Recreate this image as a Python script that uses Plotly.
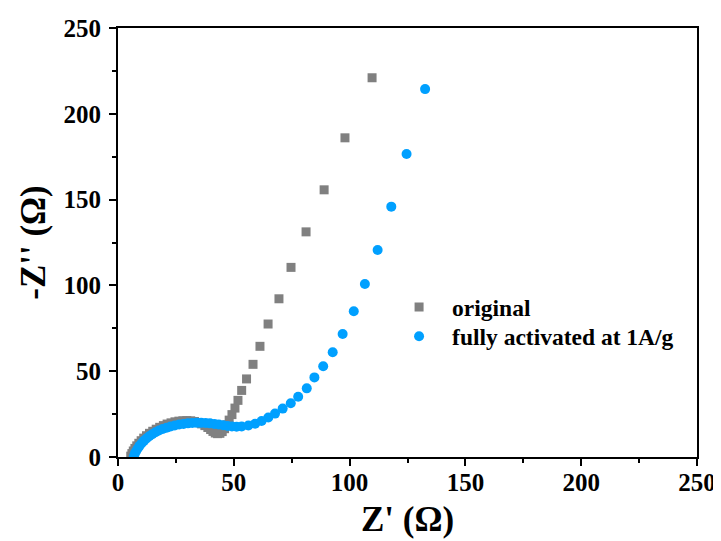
import plotly.graph_objects as go

# original (gray squares)
orig_x = [5.5, 6.0, 6.6, 7.3, 8.1, 9.0, 10.0, 11.1, 12.3, 13.6, 15.0, 16.5, 18.0, 19.6,
          21.2, 22.9, 24.6, 26.3, 28.0, 29.7, 31.4, 33.0, 34.6, 36.1, 37.5, 38.8, 40.0,
          41.0, 42.0, 43.0, 44.0, 45.0, 46.0, 47.0, 48.0, 49.2, 50.5, 51.8, 53.4, 55.5,
          58.3, 61.3, 64.8, 69.5, 74.7, 81.2, 89.0, 98.0, 109.7]
orig_y = [0.5, 2.0, 3.5, 5.0, 6.5, 8.0, 9.5, 11.0, 12.4, 13.8, 15.0, 16.2, 17.3, 18.3,
          19.2, 19.9, 20.5, 20.9, 21.1, 21.2, 21.1, 20.7, 20.1, 19.3, 18.3, 17.2, 16.0,
          14.9, 14.0, 13.6, 13.8, 14.8, 16.5, 18.8, 21.5, 24.7, 28.5, 33.0, 38.8, 45.5,
          54.0, 64.5, 77.5, 92.2, 110.5, 131.2, 155.7, 186.0, 221.0]

# fully activated at 1A/g (blue circles)
act_x = [6.8, 7.2, 7.8, 8.5, 9.3, 10.2, 11.2, 12.3, 13.5, 14.8, 16.2, 17.7, 19.3, 21.0,
         22.7, 24.5, 26.4, 28.3, 30.2, 32.1, 34.0, 35.9, 37.8, 39.7, 41.6, 43.5, 45.4,
         47.3, 49.2, 51.2, 53.4, 56.3, 59.2, 62.0, 64.9, 67.8, 71.1, 74.6, 77.8, 81.5,
         84.8, 88.6, 92.7, 97.0, 101.8, 106.6, 112.1, 118.0, 124.6, 132.6]
act_y = [0.3, 1.8, 3.4, 5.0, 6.5, 8.0, 9.4, 10.8, 12.1, 13.3, 14.4, 15.4, 16.3, 17.1,
         17.8, 18.4, 18.9, 19.3, 19.6, 19.8, 19.9, 19.9, 19.8, 19.6, 19.3, 18.9, 18.5,
         18.1, 17.8, 17.7, 17.8, 18.4, 19.4, 21.0, 23.0, 25.3, 28.2, 31.3, 35.1, 40.0,
         46.4, 52.9, 61.0, 71.7, 84.9, 100.8, 120.6, 145.9, 176.6, 214.4]

x_ticks = [0, 50, 100, 150, 200, 250]
y_ticks = [0, 50, 100, 150, 200, 250]

FONT = "Liberation Serif"

fig = go.Figure()
fig.add_trace(go.Scatter(x=orig_x, y=orig_y, mode="markers", name="original",
                         legend="legend",
                         marker=dict(symbol="square", size=9, color="rgb(128,128,128)")))
fig.add_trace(go.Scatter(x=act_x, y=act_y, mode="markers", name="fully activated at 1A/g",
                         legend="legend2",
                         marker=dict(symbol="circle", size=10, color="rgb(0,160,255)")))

axis_common = dict(
    showline=True, linecolor="black", linewidth=2, mirror=True,
    ticks="outside", ticklen=7, tickwidth=2, tickcolor="black",
    showgrid=False, zeroline=False, automargin=False,
    tickfont=dict(family=FONT, size=25, color="black", weight="bold"),
    minor=dict(ticks="outside", ticklen=4, tickwidth=2, tickcolor="black", dtick=25),
)

fig.update_xaxes(range=[0, 250], tickvals=x_ticks, ticktext=[str(v) for v in x_ticks],
                 title=dict(text="Z' (Ω)", font=dict(family=FONT, size=35, color="black", weight="bold"), standoff=11),
                 ticklabelstandoff=-5,
                 **axis_common)
fig.update_yaxes(range=[0, 250], tickvals=y_ticks, ticktext=[str(v) for v in y_ticks],
                 title=dict(text="-Z'' (Ω)", font=dict(family=FONT, size=35, color="black", weight="bold"), standoff=7),
                 ticklabelstandoff=3,
                 **axis_common)

legend_common = dict(xanchor="left", yanchor="middle", bgcolor="rgba(0,0,0,0)", itemwidth=56,
                     font=dict(family=FONT, size=23.5, color="black", weight="bold"),
                     tracegroupgap=0, itemsizing="trace")

fig.update_layout(
    width=713, height=533,
    margin=dict(l=110, r=24, t=20, b=84),
    paper_bgcolor="white", plot_bgcolor="white",
    showlegend=True,
    legend=dict(x=0.463, y=0.349, **legend_common),
    legend2=dict(x=0.463, y=0.281, **legend_common),
)

fig.write_html("out.html")
